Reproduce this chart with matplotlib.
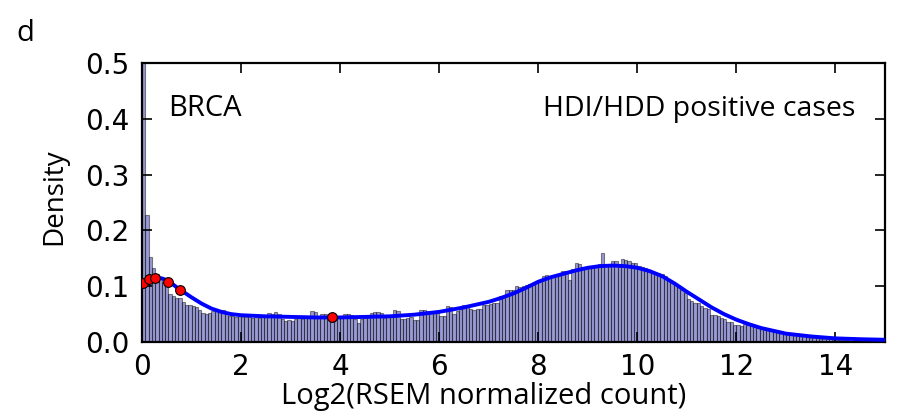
import matplotlib
matplotlib.use('Agg')
import matplotlib.pyplot as plt
import numpy as np

OUTPUT_FILENAME = 'out.png'

# histogram: 225 bins of width 1/15 from 0 to 15 (density)
BIN_EDGES = np.linspace(0, 15, 226)
DENSITY = [
    0.62, 0.228, 0.152, 0.132, 0.122, 0.115, 0.108, 0.100, 0.086, 0.083,
    0.079, 0.078, 0.072, 0.067, 0.066, 0.065, 0.063, 0.058, 0.052, 0.051,
    0.052, 0.056, 0.058, 0.057, 0.058, 0.052, 0.047, 0.046, 0.045, 0.046,
    0.044, 0.045, 0.044, 0.043, 0.044, 0.043, 0.044, 0.045, 0.052, 0.051,
    0.053, 0.051, 0.041, 0.038, 0.039, 0.038, 0.042, 0.043, 0.042, 0.044,
    0.043, 0.055, 0.054, 0.043, 0.051, 0.050, 0.043, 0.042, 0.041, 0.043,
    0.044, 0.050, 0.051, 0.049, 0.042, 0.034, 0.042, 0.043, 0.044, 0.052,
    0.053, 0.053, 0.052, 0.043, 0.044,
    0.045, 0.057, 0.056, 0.041, 0.042, 0.043, 0.044, 0.039, 0.040, 0.057,
    0.057, 0.056, 0.054, 0.052, 0.052, 0.047, 0.046, 0.064, 0.063, 0.050,
    0.056, 0.060, 0.067, 0.067, 0.059, 0.058, 0.059, 0.060, 0.066, 0.066,
    0.068, 0.070, 0.069, 0.082, 0.083,
    0.093, 0.094, 0.094, 0.100, 0.099, 0.101, 0.103, 0.104, 0.106, 0.108,
    0.110, 0.119, 0.120, 0.117, 0.118, 0.119, 0.121, 0.127, 0.128, 0.111,
    0.131, 0.141, 0.140, 0.134, 0.133, 0.135, 0.137, 0.138, 0.139, 0.159,
    0.138, 0.137, 0.145, 0.146, 0.138,
    0.148, 0.147, 0.146, 0.141, 0.141, 0.136, 0.134, 0.133, 0.129, 0.128,
    0.124, 0.123, 0.121, 0.119, 0.110, 0.107, 0.102, 0.098, 0.094, 0.087,
    0.077, 0.073, 0.070, 0.069, 0.064, 0.061, 0.059, 0.048, 0.049, 0.047,
    0.043, 0.041, 0.036, 0.035, 0.031, 0.030, 0.028,
    0.032, 0.031, 0.030, 0.029, 0.028, 0.026, 0.025, 0.024, 0.022, 0.021,
    0.020, 0.019, 0.017, 0.016, 0.014, 0.013, 0.012, 0.011, 0.010, 0.009,
    0.008, 0.007, 0.0065, 0.006, 0.0055, 0.005, 0.0045, 0.004, 0.0038, 0.0033,
    0.003, 0.0028, 0.0025, 0.0022, 0.002, 0.0018, 0.0016, 0.0014, 0.0012, 0.001,
    0.001, 0.0008, 0.0008,
]

# smooth density curve
KDE_X = [0, 0.1, 0.2, 0.3, 0.4, 0.5, 0.6, 0.7, 0.8, 1.0, 1.2, 1.4, 1.6, 1.8,
         2.0, 2.5, 3.0, 3.5, 4.0, 4.5, 5.0, 5.5, 6.0, 6.5, 7.0, 7.25, 7.5,
         7.75, 8.0, 8.25, 8.5, 8.75, 9.0, 9.25, 9.5, 9.75, 10.0, 10.25,
         10.5, 10.75, 11.0, 11.25, 11.5, 11.75, 12.0, 12.25, 12.5, 12.75,
         13.0, 13.5, 14.0, 14.5, 15.0]
KDE_Y = [0.103, 0.110, 0.114, 0.115, 0.114, 0.111, 0.105, 0.098, 0.092,
         0.080, 0.069, 0.060, 0.054, 0.050, 0.048, 0.046, 0.045, 0.044,
         0.044, 0.045, 0.046, 0.049, 0.054, 0.062, 0.072, 0.079, 0.087,
         0.097, 0.108, 0.116, 0.122, 0.128, 0.133, 0.136, 0.137, 0.136,
         0.133, 0.127, 0.118, 0.105, 0.090, 0.076, 0.062, 0.050, 0.040,
         0.032, 0.025, 0.020, 0.015, 0.010, 0.0065, 0.005, 0.004]

# positive cases
CASE_X = [0.02, 0.135, 0.27, 0.525, 0.76, 3.845]
CASE_Y = [0.105, 0.113, 0.115, 0.108, 0.094, 0.044]

XTICKS = [0, 2, 4, 6, 8, 10, 12, 14]
YTICKS = [0.0, 0.1, 0.2, 0.3, 0.4, 0.5]


def main():
    assert len(DENSITY) == len(BIN_EDGES) - 1
    plt.rcParams['font.family'] = ['Open Sans', 'DejaVu Sans']

    fig = plt.figure(figsize=(8.98, 4.11), dpi=100)
    ax = fig.add_axes([142 / 898, 1 - 342 / 411, 743 / 898, 279 / 411])

    edges = np.asarray(BIN_EDGES)
    ax.bar(edges[:-1], DENSITY, width=np.diff(edges), align='edge',
           color='#2020a0', alpha=0.45, edgecolor='black', linewidth=0.8)
    ax.plot(KDE_X, KDE_Y, color='blue', linewidth=2.8, zorder=3,
            solid_joinstyle='round')
    ax.plot(CASE_X, CASE_Y, 'o', color='red', markeredgecolor='black',
            markersize=7, markeredgewidth=0.8, zorder=4)

    ax.set_xlim(0, 15)
    ax.set_ylim(0, 0.5)
    ax.set_xticks(XTICKS)
    ax.set_yticks(YTICKS)
    ax.set_yticklabels(['%.1f' % t for t in YTICKS])
    ax.tick_params(direction='in', length=7, width=1.2, labelsize=20,
                   top=True, right=True)
    ax.tick_params(axis='x', pad=8)
    ax.tick_params(axis='y', pad=9)
    for lab in ax.get_xticklabels() + ax.get_yticklabels():
        lab.set_family('DejaVu Sans')
    for spine in ax.spines.values():
        spine.set_linewidth(1.6)

    ax.text(0.53, 0.405, 'BRCA', fontsize=21, va='baseline', ha='left')
    ax.text(14.4, 0.405, 'HDI/HDD positive cases', fontsize=20.5,
            va='baseline', ha='right')

    fig.text(54 / 898, 1 - 197 / 411, 'Density', fontsize=20,
             rotation=90, ha='center', va='center')
    fig.text(484 / 898, 1 - 404 / 411, 'Log2(RSEM normalized count)',
             fontsize=21, ha='center', va='baseline')
    fig.text(16 / 898, 1 - 41 / 411, 'd', fontsize=21, va='baseline')

    fig.savefig(OUTPUT_FILENAME, dpi=100)
    plt.close('all')


if __name__ == "__main__":
    main()
